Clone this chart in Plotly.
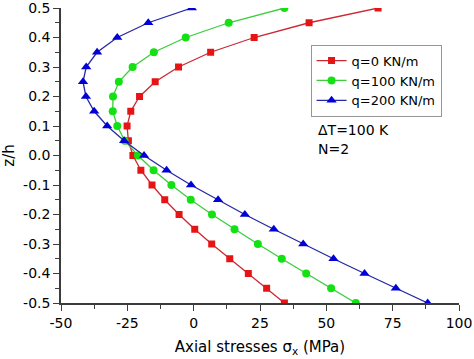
import plotly.graph_objects as go

z = [0.5, 0.45, 0.4, 0.35, 0.3, 0.25, 0.2, 0.15, 0.1, 0.05, 0.0,
     -0.05, -0.1, -0.15, -0.2, -0.25, -0.3, -0.35, -0.4, -0.45, -0.5]

sigma_q0 = [69.5, 43.5, 22.8, 6.4, -5.7, -14.5, -20.4, -23.7, -25.1, -24.6, -22.9,
            -19.9, -15.7, -10.9, -5.5, 0.4, 6.8, 13.6, 20.6, 27.5, 34.2]
sigma_q100 = [34.2, 13.2, -3.0, -15.0, -23.0, -28.2, -30.4, -30.5, -28.8, -26.0, -21.0,
              -15.1, -8.4, -1.1, 6.9, 15.4, 24.2, 33.2, 42.4, 51.8, 61.1]
sigma_q200 = [-0.7, -17.1, -28.8, -36.4, -40.5, -41.7, -40.6, -37.5, -32.6, -26.2, -18.7,
              -10.2, -1.0, 9.2, 19.3, 30.2, 41.3, 52.7, 64.4, 76.2, 88.2]

names = ["q=0 KN/m", "q=100 KN/m", "q=200 KN/m"]
x_ticks = [-50, -25, 0, 25, 50, 75, 100]
y_ticks = [0.5, 0.4, 0.3, 0.2, 0.1, 0.0, -0.1, -0.2, -0.3, -0.4, -0.5]
y_ticklabels = ["0.5", "0.4", "0.3", "0.2", "0.1", "0.0", "-0.1", "-0.2", "-0.3", "-0.4", "-0.5"]

FONT = "DejaVu Sans, Arial, sans-serif"
AXC = "rgb(60,60,60)"

fig = go.Figure()
series = [
    (sigma_q0, names[0], "rgb(205,40,50)", "rgb(230,20,20)", "square", 7),
    (sigma_q100, names[1], "rgb(60,205,60)", "rgb(20,225,20)", "circle", 8),
    (sigma_q200, names[2], "rgb(40,40,165)", "rgb(0,0,215)", "triangle-up", 9),
]
for vals, nm, lc, mc, sym, sz in series:
    fig.add_trace(go.Scatter(
        x=vals, y=z, mode="lines+markers", name=nm,
        line=dict(color=lc, width=1.3),
        marker=dict(symbol=sym, size=sz, color=mc),
        cliponaxis=True,
    ))

fig.add_annotation(x=0.64, y=0.586, xref="paper", yref="paper", text="ΔT=100 K",
                   showarrow=False, xanchor="left", yanchor="middle",
                   font=dict(family=FONT, size=14, color="black"))
fig.add_annotation(x=0.64, y=0.523, xref="paper", yref="paper", text="N=2",
                   showarrow=False, xanchor="left", yanchor="middle",
                   font=dict(family=FONT, size=14, color="black"))

fig.update_layout(
    width=474, height=359,
    margin=dict(l=61, r=15, t=8, b=56),
    paper_bgcolor="white", plot_bgcolor="white",
    font=dict(family=FONT, size=14, color="black"),
    showlegend=True,
    legend=dict(x=0.627, y=0.876, xanchor="left", yanchor="top",
                bordercolor="rgb(150,150,150)", borderwidth=1,
                bgcolor="white", font=dict(family=FONT, size=13),
                tracegroupgap=0, itemwidth=30),
    xaxis=dict(
        range=[-50, 100], tickvals=x_ticks, ticktext=[str(v) for v in x_ticks],
        showgrid=False, zeroline=False, showline=True, linecolor=AXC, linewidth=1.5,
        ticks="outside", ticklen=6, tickwidth=1.3, tickcolor=AXC,
        minor=dict(dtick=12.5, ticks="outside", ticklen=4, tickwidth=1.3, tickcolor=AXC),
        title=dict(text="Axial stresses σ<sub>x</sub> (MPa)", font=dict(family=FONT, size=15), standoff=12),
        tickfont=dict(family=FONT, size=14),
        automargin=False, ticklabeloverflow="allow",
    ),
    yaxis=dict(
        range=[-0.5, 0.5], tickvals=y_ticks, ticktext=y_ticklabels,
        showgrid=False, zeroline=False, showline=True, linecolor=AXC, linewidth=1.5,
        ticks="outside", ticklen=6, tickwidth=1.3, tickcolor=AXC,
        minor=dict(dtick=0.05, ticks="outside", ticklen=4, tickwidth=1.3, tickcolor=AXC),
        title=dict(text="z/h", font=dict(family=FONT, size=15), standoff=6),
        tickfont=dict(family=FONT, size=14),
        automargin=False, ticklabeloverflow="allow",
    ),
)

fig.write_html("out.html", config={"displayModeBar": False},
               post_script="document.body.style.margin='0';")
